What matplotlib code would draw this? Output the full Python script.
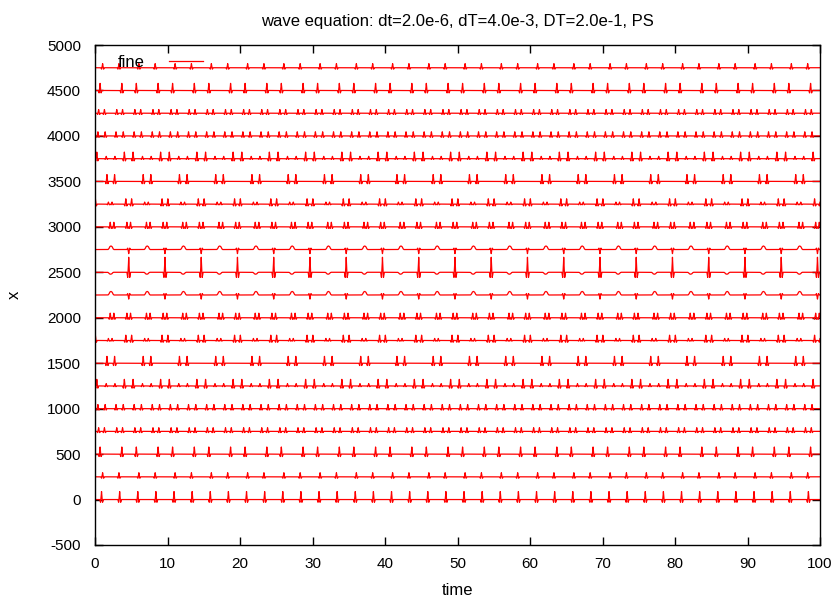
import numpy as np
import matplotlib
matplotlib.use('Agg')
import matplotlib.pyplot as plt

plt.rcParams['font.family'] = ['Liberation Sans', 'DejaVu Sans']
plt.rcParams['axes.unicode_minus'] = False

# Текст графика
title = 'wave equation: dt=2.0e-6, dT=4.0e-3, DT=2.0e-1, PS'
x_label = 'time'
y_label = 'x'
legend_label = 'fine'

# Положения трасс по x (смещение каждой линии)
positions = [0, 250, 500, 750, 1000, 1250, 1500, 1750, 2000, 2250,
             2500, 2750, 3000, 3250, 3500, 3750, 4000, 4250, 4500, 4750]

# Период повторения импульсов по времени
period = 5.0
t_end = 100.0

# Импульсы внутри одного периода: (время, амплитуда, форма)
pulses = {
    0:    [(0.9, 88, 'spike'), (3.4, 88, 'spike')],
    250:  [(1.05, 45, 'spike'), (3.3, 45, 'spike')],
    500:  [(0.7, 78, 'spike'), (3.7, 78, 'spike')],
    750:  [(0.5, 40, 'spike'), (1.3, 40, 'spike'), (3.0, 40, 'spike'), (3.8, 40, 'spike')],
    1000: [(0.4, 45, 'spike'), (1.4, 45, 'spike'), (2.9, 45, 'spike'), (3.9, 45, 'spike')],
    1250: [(0.25, 72, 'spike'), (4.05, 72, 'spike'), (1.55, 25, 'spike'), (2.75, 25, 'spike')],
    1500: [(1.65, 75, 'spike'), (2.7, 75, 'spike')],
    1750: [(4.25, 58, 'spike'), (0.05, 58, 'spike'), (1.85, 22, 'spike'), (2.35, 22, 'spike')],
    2000: [(2.1, 50, 'spike'), (2.6, 50, 'spike'), (4.4, 50, 'spike'), (4.9, 50, 'spike')],
    2250: [(2.2, 40, 'bump'), (4.65, -45, 'spike')],
    2500: [(4.65, 165, 'spike'), (2.15, -22, 'bump')],
}
# верхняя половина повторяет нижнюю (симметрия)
for xp in positions:
    if xp > 2500:
        pulses[xp] = pulses[5000 - xp]

# Формы импульсов
shape_x = {'spike': [-1, -0.55, -0.2, 0, 0.2, 0.55, 1],
           'bump':  [-1, -0.7, -0.4, 0, 0.4, 0.7, 1]}
shape_y = {'spike': [0, -0.35, 0.35, 1, 0.35, -0.35, 0],
           'bump':  [0, 0.25, 0.8, 1, 0.8, 0.25, 0]}
half_width = {'spike': 0.25, 'bump': 0.4}

t = np.linspace(0, t_end, 20001)


def build_trace(pulse_list):
    y = np.zeros_like(t)
    n = int(t_end / period) + 2
    for t0, amp, kind in pulse_list:
        w = half_width[kind]
        for k in range(-1, n):
            c = t0 + k * period
            y += amp * np.interp((t - c) / w, shape_x[kind], shape_y[kind], left=0, right=0)
    return y


fig = plt.figure(figsize=(8.35, 5.96), dpi=100)
ax = fig.add_axes([95 / 835, 1 - 545 / 596, 725 / 835, 500 / 596])

for i, xp in enumerate(positions):
    label = legend_label if i == 0 else None
    ax.plot(t, xp + build_trace(pulses[xp]), color='#ff0000', lw=0.9, label=label)

ax.set_xlim(0, 100)
ax.set_ylim(-500, 5000)
ax.set_xticks(np.arange(0, 101, 10))
ax.set_yticks(np.arange(-500, 5001, 500))
ax.tick_params(direction='in', length=6, width=1, top=True, right=True, labelsize=11)
ax.tick_params(axis='x', pad=9)
ax.tick_params(axis='y', pad=10)
for s in ax.spines.values():
    s.set_linewidth(1.0)

ax.set_title(title, fontsize=12, pad=14)
ax.set_xlabel(x_label, fontsize=12, labelpad=8)
ax.set_ylabel(y_label, fontsize=12, labelpad=18)

ax.legend(loc='upper left', frameon=False, markerfirst=False, fontsize=12,
          handlelength=2.0, handletextpad=1.5, borderaxespad=0.0,
          bbox_to_anchor=(0.022, 0.994))

plt.savefig('out.png', dpi=100)
